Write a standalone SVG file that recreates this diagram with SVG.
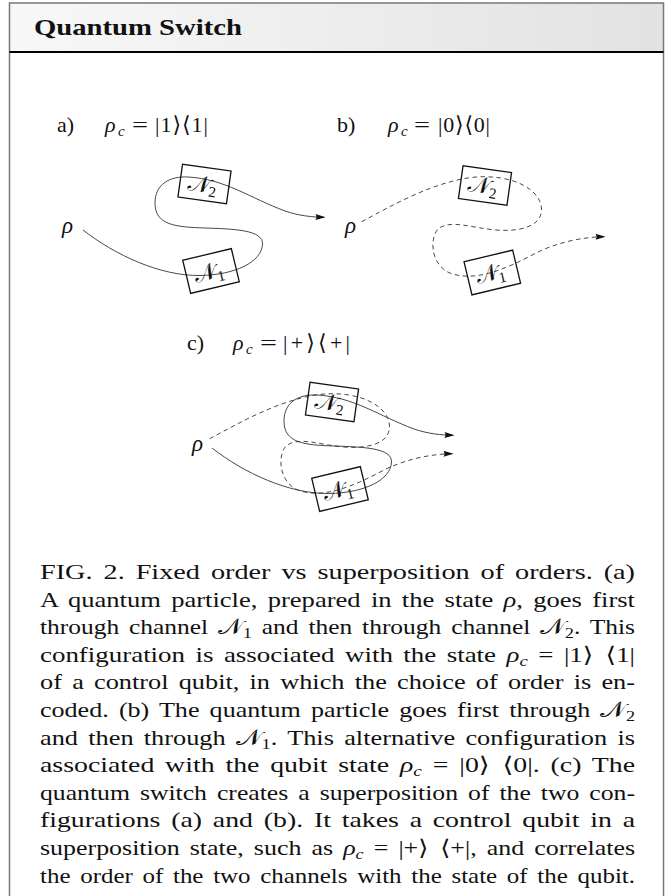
<svg xmlns="http://www.w3.org/2000/svg" width="667" height="896" viewBox="0 0 667 896">
<style>
.t{font-family:"Liberation Serif","DejaVu Serif",serif;fill:#111}
.cap{font-family:"Liberation Serif","DejaVu Serif",serif;font-size:21.5px;word-spacing:3px;fill:#111}
.it{font-style:italic}
.br{font-family:"DejaVu Sans","DejaVu Serif",sans-serif;font-weight:200}
.cal{font-family:"DejaVu Serif","DejaVu Sans","Noto Sans",serif;font-style:normal}
.sub{font-size:15px}
.box{fill:none;stroke:#111;stroke-width:1.3}
.sol{fill:none;stroke:#333;stroke-width:0.9;marker-end:url(#arr)}
.dsh{fill:none;stroke:#333;stroke-width:0.9;stroke-dasharray:4.5 3.5;marker-end:url(#arr)}
</style>
<defs>
<linearGradient id="hg" x1="0" y1="0" x2="1" y2="0">
<stop offset="0" stop-color="#f8f8f8"/>
<stop offset="1" stop-color="#e2e2e2"/>
</linearGradient>
<marker id="arr" viewBox="-10 -5 12 10" refX="0" refY="0" markerWidth="12" markerHeight="10" markerUnits="userSpaceOnUse" orient="auto">
<path d="M1.5,0 L-8.5,-3 Q-6.5,0 -8.5,3 Z" fill="#111"/>
</marker>
</defs>
<rect x="0" y="0" width="667" height="896" fill="#fff"/>
<g id="frame">
<rect x="9.5" y="3" width="654" height="49" fill="url(#hg)"/>
<rect x="9.5" y="3" width="654" height="920" fill="none" stroke="#777" stroke-width="1.5"/>
<line x1="9.5" y1="52" x2="663.5" y2="52" stroke="#000" stroke-width="2.2"/>
<text class="t" x="34" y="35" font-size="24" font-weight="bold" textLength="208" lengthAdjust="spacingAndGlyphs">Quantum Switch</text>
</g>

<g id="labels">
<g id="label-a">
<text class="t" x="57" y="132" font-size="22">a)</text>
<text class="t it" x="105" y="132" font-size="22">ρ</text>
<text class="t it" x="118" y="136" font-size="15">c</text>
<text class="t" x="132" y="132" font-size="22" textLength="16" lengthAdjust="spacingAndGlyphs">=</text>
<text class="t" x="155" y="132" font-size="22" textLength="53" lengthAdjust="spacing">|1<tspan class="br">⟩⟨</tspan>1|</text>
</g>
<g id="label-b">
<text class="t" x="337" y="132" font-size="22">b)</text>
<text class="t it" x="388" y="132" font-size="22">ρ</text>
<text class="t it" x="401" y="136" font-size="15">c</text>
<text class="t" x="414" y="132" font-size="22" textLength="16" lengthAdjust="spacingAndGlyphs">=</text>
<text class="t" x="438" y="132" font-size="22" textLength="52" lengthAdjust="spacing">|0<tspan class="br">⟩⟨</tspan>0|</text>
</g>
<g id="label-c">
<text class="t" x="187" y="350" font-size="22">c)</text>
<text class="t it" x="233" y="350" font-size="22">ρ</text>
<text class="t it" x="246" y="354" font-size="15">c</text>
<text class="t" x="260" y="350" font-size="22" textLength="17" lengthAdjust="spacingAndGlyphs">=</text>
<text class="t" x="283" y="350" font-size="22" textLength="67" lengthAdjust="spacing">|+<tspan class="br">⟩⟨</tspan>+|</text>
</g>
</g>

<g id="connectors">
<path class="sol" d="M83,230 C115,255 160,276 200,275.5 C235,275 262,262 262.5,244 C263,230 235,229 205,228 C175,227 155,225 155,203 C155,184 170,176 188,177 C225,179 250,198 285,211 C300,216 312,217 324,217.3"/>
<path class="dsh" transform="translate(281,1)" d="M80.7,220.7 C110,205 150,182 190,176.5 C230,172 260,188 260.5,208 C261,225 240,231 215,229 C190,227 170,218 157,228 C148,238 150,265 170,272.5 C195,281 225,268 255,252 C275,242 300,236 323,235.7"/>
<path class="sol" transform="translate(129,218)" d="M83,230 C115,255 160,276 200,275.5 C235,275 262,262 262.5,244 C263,230 235,229 205,228 C175,227 155,225 155,203 C155,184 170,176 188,177 C225,179 250,198 285,211 C300,216 312,217 324,217.3"/>
<path class="dsh" transform="translate(129,218)" d="M80.7,220.7 C110,205 150,182 190,176.5 C230,172 260,188 260.5,208 C261,225 240,231 215,229 C190,227 170,218 157,228 C148,238 150,265 170,272.5 C195,281 225,268 255,252 C275,242 300,236 323,235.7"/>
</g>

<g id="rho-a"><text class="t it" x="62" y="233" font-size="23">ρ</text></g>
<g id="rho-b"><text class="t it" x="345" y="233" font-size="23">ρ</text></g>
<g id="rho-c"><text class="t it" x="192" y="451" font-size="23">ρ</text></g>

<g id="a-N2" transform="translate(204.5,184) rotate(8)">
<rect class="box" x="-24.5" y="-16.5" width="49" height="33"/>
<text class="t" x="-17" y="8" font-size="23"><tspan class="cal">𝒩</tspan><tspan font-size="15" dy="4">2</tspan></text>
</g>
<g id="a-N1" transform="translate(211,271) rotate(-13.5)">
<rect class="box" x="-25" y="-17" width="50" height="34"/>
<text class="t" x="-17" y="8" font-size="23"><tspan class="cal">𝒩</tspan><tspan font-size="15" dy="4">1</tspan></text>
</g>
<g id="b-N2" transform="translate(485,185.5) rotate(8)">
<rect class="box" x="-24.5" y="-16.5" width="49" height="33"/>
<text class="t" x="-17" y="8" font-size="23"><tspan class="cal">𝒩</tspan><tspan font-size="15" dy="4">2</tspan></text>
</g>
<g id="b-N1" transform="translate(492.3,272.5) rotate(-13.5)">
<rect class="box" x="-25" y="-17" width="50" height="34"/>
<text class="t" x="-17" y="8" font-size="23"><tspan class="cal">𝒩</tspan><tspan font-size="15" dy="4">1</tspan></text>
</g>
<g id="c-N2" transform="translate(332,402) rotate(8)">
<rect class="box" x="-24.5" y="-16.5" width="49" height="33"/>
<text class="t" x="-17" y="8" font-size="23"><tspan class="cal">𝒩</tspan><tspan font-size="15" dy="4">2</tspan></text>
</g>
<g id="c-N1" transform="translate(340,489) rotate(-13.5)">
<rect class="box" x="-25" y="-17" width="50" height="34"/>
<text class="t" x="-17" y="8" font-size="23"><tspan class="cal">𝒩</tspan><tspan font-size="15" dy="4">1</tspan></text>
</g>

<g id="caption">
<text class="cap" x="40" y="579" textLength="595" lengthAdjust="spacingAndGlyphs">FIG. 2.  Fixed order vs superposition of orders.  (a)</text>
<text class="cap" x="40" y="606.6" textLength="595" lengthAdjust="spacingAndGlyphs">A quantum particle, prepared in the state <tspan class="it">ρ</tspan>, goes first</text>
<text class="cap" x="40" y="634.2" textLength="595" lengthAdjust="spacingAndGlyphs">through channel <tspan class="cal">𝒩</tspan><tspan class="sub" dy="4">1</tspan><tspan dy="-4"> and then through channel </tspan><tspan class="cal">𝒩</tspan><tspan class="sub" dy="4">2</tspan><tspan dy="-4">. This</tspan></text>
<text class="cap" x="40" y="661.8" textLength="595" lengthAdjust="spacingAndGlyphs">configuration is associated with the state <tspan class="it">ρ</tspan><tspan class="sub it" dy="4">c</tspan><tspan dy="-4"> = |1<tspan class="br">⟩ ⟨</tspan>1|</tspan></text>
<text class="cap" x="40" y="689.4" textLength="595" lengthAdjust="spacingAndGlyphs">of a control qubit, in which the choice of order is en-</text>
<text class="cap" x="40" y="717" textLength="595" lengthAdjust="spacingAndGlyphs">coded. (b) The quantum particle goes first through <tspan class="cal">𝒩</tspan><tspan class="sub" dy="4">2</tspan></text>
<text class="cap" x="40" y="744.6" textLength="595" lengthAdjust="spacingAndGlyphs">and then through <tspan class="cal">𝒩</tspan><tspan class="sub" dy="4">1</tspan><tspan dy="-4">. This alternative configuration is</tspan></text>
<text class="cap" x="40" y="772.2" textLength="595" lengthAdjust="spacingAndGlyphs">associated with the qubit state <tspan class="it">ρ</tspan><tspan class="sub it" dy="4">c</tspan><tspan dy="-4"> = |0<tspan class="br">⟩ ⟨</tspan>0|.  (c) The</tspan></text>
<text class="cap" x="40" y="799.8" textLength="595" lengthAdjust="spacingAndGlyphs">quantum switch creates a superposition of the two con-</text>
<text class="cap" x="40" y="827.4" textLength="595" lengthAdjust="spacingAndGlyphs">figurations (a) and (b).  It takes a control qubit in a</text>
<text class="cap" x="40" y="855" textLength="595" lengthAdjust="spacingAndGlyphs">superposition state, such as <tspan class="it">ρ</tspan><tspan class="sub it" dy="4">c</tspan><tspan dy="-4"> = |+<tspan class="br">⟩ ⟨</tspan>+|, and correlates</tspan></text>
<text class="cap" x="40" y="882.6" textLength="595" lengthAdjust="spacingAndGlyphs">the order of the two channels with the state of the qubit.</text>
</g>
</svg>
